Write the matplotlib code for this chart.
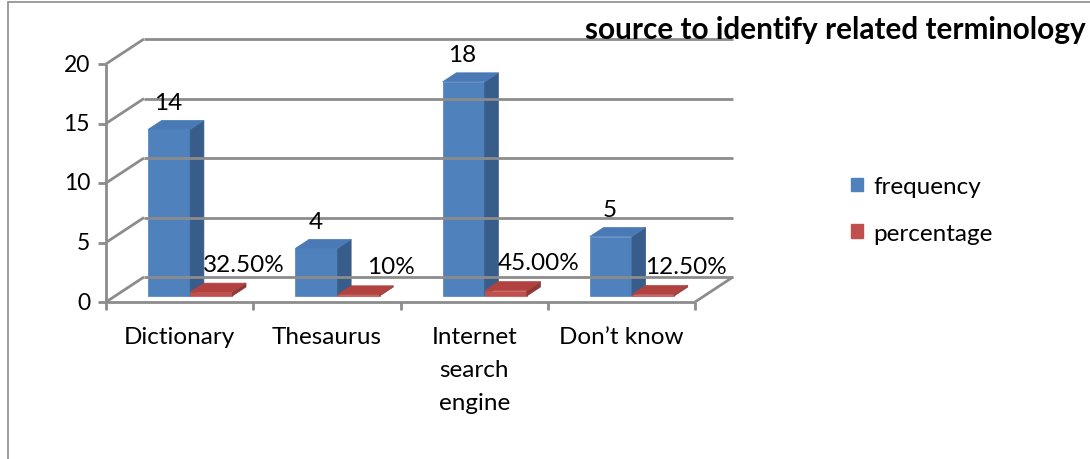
import matplotlib
matplotlib.use("Agg")
import matplotlib.pyplot as plt
from matplotlib.patches import Polygon, Patch, Rectangle
from matplotlib.lines import Line2D
from matplotlib.transforms import IdentityTransform

# data
categories = ["Dictionary", "Thesaurus", "Internet\nsearch\nengine", "Don\u2019t know"]
frequency = [14, 4, 18, 5]
percentage = [0.325, 0.10, 0.45, 0.125]
pct_labels = ["32.50%", "10%", "45.00%", "12.50%"]
y_ticks = [0, 5, 10, 15, 20]
title = "source to identify related terminology"

BLUE = {"front": "#4F81BD", "side": "#385D8A", "top": "#4A7AB5"}
RED = {"front": "#C0504D", "side": "#8C3A38", "top": "#B2423F"}
GRID = "#8C8C8C"
DEPTH = (38, 25)      # pixel shift from the front plane to the back wall
BAR_Z = (0.24, 0.60)  # depth range of the columns
GAP, WIDTH = 0.224, 0.286

plt.rcParams["font.family"] = ["Lato", "DejaVu Sans"]
FS = 17.5

fig = plt.figure(figsize=(10.9, 4.6), dpi=100)
ax = fig.add_axes([106 / 1090, 157 / 460, 589 / 1090, 238 / 460])
ax.set_xlim(0, len(categories))
ax.set_ylim(0, 20)
ax.axis("off")


def proj(x, y, z):
    px, py = ax.transData.transform((x, y))
    return (px + DEPTH[0] * z, py + DEPTH[1] * z)


def line(pts, color=GRID, lw=2.0):
    xs, ys = zip(*pts)
    ax.add_line(Line2D(xs, ys, color=color, lw=lw, transform=IdentityTransform(),
                       clip_on=False, solid_capstyle="butt"))


def face(pts, color):
    ax.add_patch(Polygon(pts, closed=True, facecolor=color, edgecolor=color, lw=0.5,
                         transform=IdentityTransform(), clip_on=False))


def box(xa, xb, h, col):
    z0, z1 = BAR_Z
    face([proj(xa, 0, z0), proj(xb, 0, z0), proj(xb, h, z0), proj(xa, h, z0)], col["front"])
    face([proj(xb, 0, z0), proj(xb, 0, z1), proj(xb, h, z1), proj(xb, h, z0)], col["side"])
    face([proj(xa, h, z0), proj(xb, h, z0), proj(xb, h, z1), proj(xa, h, z1)], col["top"])


n = len(categories)
# walls and floor
for t in y_ticks:
    line([proj(0, t, 1), proj(n, t, 1)])
    line([proj(0, t, 0), proj(0, t, 1)])
    x, y = proj(0, t, 0)
    line([(x - 8, y), (x, y)])
    ax.annotate(str(t), (0, t), xytext=(-16, 0), textcoords="offset pixels",
                ha="right", va="center", fontsize=16.5)
line([proj(0, 0, 0), proj(0, 20, 0)])
line([proj(0, 0, 0), proj(n, 0, 0)])
line([proj(n, 0, 0), proj(n, 0, 1)])
for i in range(n + 1):
    x, y = proj(i, 0, 0)
    line([(x, y), (x, y - 8)])

# columns and labels
for i in range(n):
    xa = i + GAP
    box(xa, xa + WIDTH, frequency[i], BLUE)
    box(xa + WIDTH, xa + 2 * WIDTH, percentage[i], RED)
    ax.annotate(str(frequency[i]), (xa + WIDTH / 2, frequency[i]), xytext=(8, 33),
                textcoords="offset pixels", ha="center", va="center", fontsize=FS)
    ax.annotate(pct_labels[i], (xa + 1.5 * WIDTH, percentage[i]), xytext=(42, 34),
                textcoords="offset pixels", ha="center", va="center", fontsize=FS)
    ax.annotate(categories[i], (i + 0.5, 0), xytext=(0, -24), textcoords="offset pixels",
                ha="center", va="top", fontsize=FS, linespacing=1.72)

handles = [Patch(color=BLUE["front"], label="frequency"),
           Patch(color=RED["front"], label="percentage")]
fig.legend(handles=handles, loc="center left", bbox_to_anchor=(829 / 1090, 1 - 211 / 460),
           frameon=False, fontsize=FS, handlelength=0.48, handleheight=0.48,
           handletextpad=0.45, labelspacing=1.05)

fig.text(1086 / 1090, 1 - 30 / 460, title, ha="right", va="center",
         fontsize=21.4, fontweight="bold")

fig.add_artist(Rectangle((8 / 1090, -0.1), 1.2, 457 / 460 + 0.1, transform=fig.transFigure,
                         fill=False, edgecolor="#8C8C8C", lw=1.2))

fig.savefig("out.png", dpi=100)
